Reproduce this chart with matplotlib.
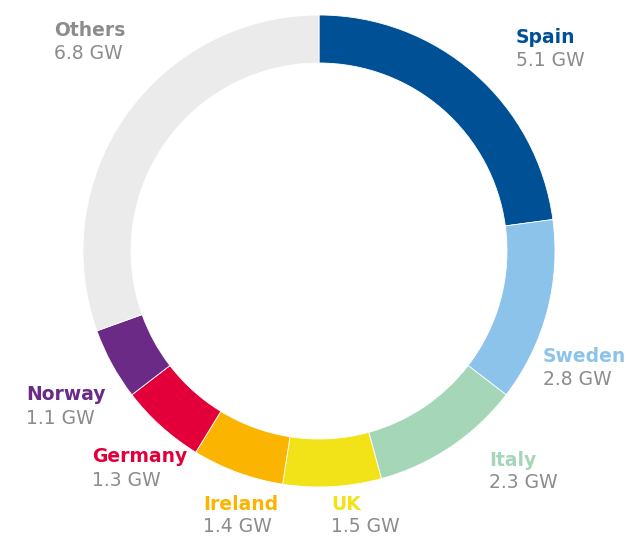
import matplotlib
matplotlib.use('Agg')
import matplotlib.pyplot as plt

# capacity by country (GW)
countries = ['Spain', 'Sweden', 'Italy', 'UK', 'Ireland', 'Germany', 'Norway', 'Others']
values = [5.1, 2.8, 2.3, 1.5, 1.4, 1.3, 1.1, 6.8]
colors = ['#005096', '#8CC3EA', '#A5D6B8', '#F2E319', '#FBB400', '#E3003A', '#6A2A85', '#EBEBEB']
name_colors = ['#005096', '#8CC3EA', '#A5D6B8', '#F2E319', '#FBB400', '#E3003A', '#6A2A85', '#8C8C8C']

W, H = 643, 539
cx, cy, R = 319, 251, 236

fig = plt.figure(figsize=(W / 100, H / 100), dpi=100)
ax = fig.add_axes([0, 0, 1, 1])
ax.pie(values, colors=colors, startangle=90, counterclock=False, radius=1,
       wedgeprops=dict(width=48 / R, edgecolor='white', linewidth=0.6))
ax.set_xlim(-cx / R, (W - cx) / R)
ax.set_ylim(-(H - cy) / R, cy / R)
ax.set_aspect('auto')
ax.axis('off')

# label positions in pixels (left x, name y)
label_pos = [(516, 38), (543, 357), (489, 460), (331, 504), (203, 504),
             (92, 457), (26, 395), (54, 31)]

def px(x, y):
    return (x - cx) / R, (cy - y) / R

for name, v, c, (x, y) in zip(countries, values, name_colors, label_pos):
    ax.text(*px(x, y), name, color=c, fontsize=13.5, fontweight='bold',
            ha='left', va='center', family='DejaVu Sans')
    ax.text(*px(x, y + 23), f'{v} GW', color='#8C8C8C', fontsize=13.5,
            ha='left', va='center', family='DejaVu Sans')

fig.savefig('out.png', dpi=100)
